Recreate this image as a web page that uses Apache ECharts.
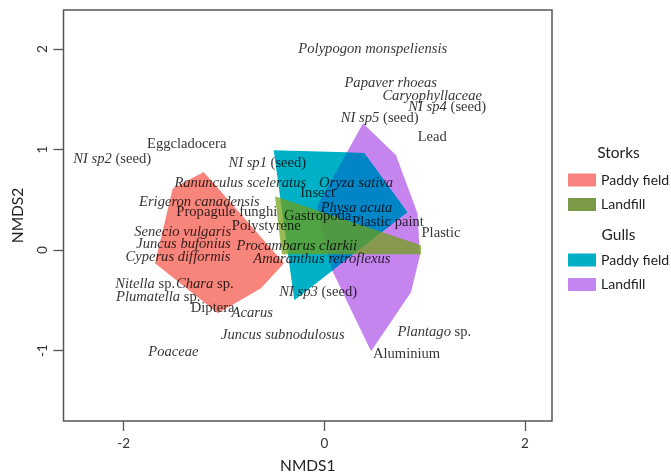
<!DOCTYPE html>
<html>
<head>
<meta charset="utf-8">
<script src="https://cdn.jsdelivr.net/npm/echarts@6/dist/echarts.min.js"></script>
<style>html,body{margin:0;padding:0;background:#fff}#c{width:671px;height:475px}</style>
</head>
<body>
<div id="c"></div>
<script>
// ---- data ----
const xTicks = [-2, 0, 2];
const yTicks = [-1, 0, 1, 2];

// convex hulls (NMDS1, NMDS2)
const storksPaddy = [[-1.202,0.779],[-0.402,-0.129],[-0.631,-0.378],[-1.060,-0.627],[-1.688,-0.129],[-1.511,0.614]];
const storksLandfill = [[-0.492,0.537],[0.964,0.050],[0.964,-0.040],[-0.422,-0.040]];
const gullsPaddy = [[-0.504,0.995],[0.399,0.970],[0.830,0.378],[-0.299,-0.498]];
const gullsLandfill = [[0.386,1.264],[0.715,0.945],[0.929,0.368],[0.954,-0.050],[0.864,-0.418],[0.466,-1.005],[0.077,-0.199],[-0.073,0.438]];

// item scores
const itemNames = ['Polypogon monspeliensis','Eggcladocera','NI sp2 (seed)','NI sp1 (seed)','Ranunculus sceleratus','Erigeron canadensis','Propagule funghi','Polystyrene','Senecio vulgaris','Juncus bufonius','Cyperus difformis','Procambarus clarkii','Amaranthus retroflexus','Nitella sp.','Chara sp.','Plumatella sp.','Diptera','Acarus','Juncus subnodulosus','Poaceae','NI sp3 (seed)','Insect','Oryza sativa','Physa acuta','Gastropoda','Plastic paint','Plastic','Lead','Papaver rhoeas','Caryophyllaceae','NI sp4 (seed)','NI sp5 (seed)','Plantago sp.','Aluminium'];
const itemX = [0.483,-1.372,-2.115,-0.568,-0.838,-1.246,-0.972,-0.578,-1.412,-1.404,-1.459,-0.274,-0.025,-1.786,-1.191,-1.656,-1.113,-0.719,-0.414,-1.505,-0.061,-0.066,0.316,0.321,-0.066,0.635,1.163,1.076,0.662,1.076,1.226,0.553,1.097,0.820];
const itemY = [2.000,1.052,0.905,0.863,0.670,0.475,0.381,0.239,0.182,0.060,-0.067,0.043,-0.093,-0.343,-0.343,-0.465,-0.574,-0.630,-0.849,-1.018,-0.415,0.570,0.670,0.421,0.338,0.282,0.169,1.121,1.659,1.535,1.420,1.310,-0.813,-1.035];

// non-taxon items shown upright
const upright = new Set(['Eggcladocera','Propagule funghi','Polystyrene','Diptera','Insect','Gastropoda','Plastic paint','Plastic','Lead','Aluminium']);

function richLabel(s) {
  if (upright.has(s)) return '{r|' + s + '}';
  const m = s.match(/^(.*?)( \(seed\)| sp\.)$/);
  if (m) return '{i|' + m[1] + '}{r|' + m[2] + '}';
  return '{i|' + s + '}';
}

function hullSeries(name, pts, color, extraStyle, z) {
  return {
    type: 'custom', name: name, z: z,
    data: pts, encode: {x: 0, y: 1},
    itemStyle: {color: color},
    renderItem: function (params, api) {
      if (params.dataIndex !== 0) return null;
      const p = pts.map(function (d) { return api.coord(d); });
      return {type: 'polygon', name: name, shape: {points: p}, style: Object.assign({fill: color}, extraStyle)};
    }
  };
}

const chart = echarts.init(document.getElementById('c'), null, {renderer: 'canvas'});
const sans = 'Lato';
const serifBase = {fontFamily: 'Liberation Serif', fontSize: 14.6, color: '#000'};

chart.setOption({
  backgroundColor: '#ffffff',
  animation: false,
  grid: {left: 63.5, right: 119, top: 10, bottom: 54, show: true, containLabel: false, outerBoundsMode: 'none',
         borderColor: '#555', borderWidth: 1.5, backgroundColor: 'transparent'},
  xAxis: {
    type: 'value', min: -2.6, max: 2.27,
    axisLine: {show: false, onZero: false}, splitLine: {show: false},
    axisTick: {show: true, length: 10, customValues: xTicks, lineStyle: {color: '#555', width: 1.3}},
    axisLabel: {customValues: xTicks, margin: 16, fontFamily: sans, fontSize: 13.5, color: '#333'},
    name: 'NMDS1', nameLocation: 'middle', nameGap: 37,
    nameTextStyle: {fontFamily: sans, fontSize: 15.5, color: '#222'}
  },
  yAxis: {
    type: 'value', min: -1.70, max: 2.39,
    axisLine: {show: false, onZero: false}, splitLine: {show: false},
    axisTick: {show: true, length: 10, customValues: yTicks, lineStyle: {color: '#555', width: 1.3}},
    axisLabel: {customValues: yTicks, rotate: 90, margin: 14, fontFamily: sans, fontSize: 13.5, color: '#333'},
    name: 'NMDS2', nameLocation: 'middle', nameGap: 38,
    nameTextStyle: {fontFamily: sans, fontSize: 15.5, color: '#222'}
  },
  legend: [
    {orient: 'vertical', left: 568, top: 173, itemWidth: 28, itemHeight: 13, itemGap: 10.5, icon: 'rect', padding: 0,
     selectedMode: false, formatter: function (n) { return n.split('|')[1]; },
     textStyle: {fontFamily: sans, fontSize: 14, color: '#222', lineHeight: 14},
     data: [{name: 'Storks|Paddy field', itemStyle: {color: '#F8827D'}}, {name: 'Storks|Landfill', itemStyle: {color: '#7A9A48'}}]},
    {orient: 'vertical', left: 568, top: 253, itemWidth: 28, itemHeight: 13, itemGap: 10.5, icon: 'rect', padding: 0,
     selectedMode: false, formatter: function (n) { return n.split('|')[1]; },
     textStyle: {fontFamily: sans, fontSize: 14, color: '#222', lineHeight: 14},
     data: [{name: 'Gulls|Paddy field', itemStyle: {color: '#00AFC4'}}, {name: 'Gulls|Landfill', itemStyle: {color: '#C585F0'}}]}
  ],
  graphic: [
    {type: 'text', x: 618.5, y: 152.7, style: {text: 'Storks', align: 'center', verticalAlign: 'middle', font: '15.5px Lato', fill: '#222'}},
    {type: 'text', x: 618.5, y: 235, style: {text: 'Gulls', align: 'center', verticalAlign: 'middle', font: '15.5px Lato', fill: '#222'}}
  ],
  series: [
    hullSeries('Storks|Paddy field', storksPaddy, '#F8857B', {}, 1),
    hullSeries('Gulls|Paddy field', gullsPaddy, '#00B0C6', {}, 2),
    hullSeries('Gulls|Landfill', gullsLandfill, '#C685EE', {blend: 'darken'}, 3),
    hullSeries('Storks|Landfill', storksLandfill, '#6FA012', {opacity: 0.72}, 4),
    {
      type: 'scatter', z: 10, symbolSize: 1, itemStyle: {color: 'rgba(0,0,0,0)'},
      data: itemNames.map(function (n, i) { return [itemX[i], itemY[i], n]; }),
      label: {
        show: true, position: 'inside',
        formatter: function (p) { return richLabel(p.data[2]); },
        rich: {
          i: Object.assign({fontStyle: 'italic'}, serifBase),
          r: Object.assign({}, serifBase)
        }
      },
      emphasis: {disabled: true}
    }
  ]
});

// make sure the gull-landfill hull darkens what lies beneath it
(function () {
  const zr = chart.getZr();
  zr.storage.getDisplayList(true).forEach(function (el) {
    if (el.type === 'polygon' && el.style && el.style.fill === '#C685EE') {
      el.style.blend = 'darken';
      el.markRedraw();
    }
  });
  zr.refreshImmediately();
})();
</script>
</body>
</html>
